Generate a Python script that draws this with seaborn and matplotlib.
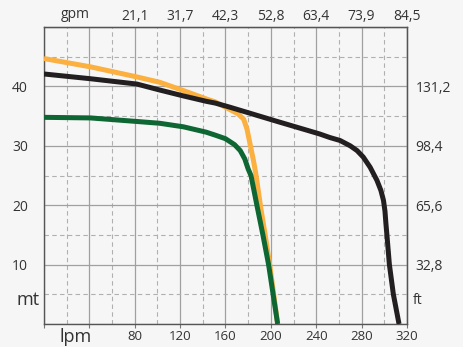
import matplotlib.pyplot as plt
import pandas as pd
import numpy as np
import seaborn as sns

# curve data: flow in lpm, head in mt
orange_q = [0, 41, 82, 102, 123, 143, 151, 162, 171, 176, 179, 182, 185, 187, 191, 195, 199, 206]
orange_h = [44.7, 43.3, 41.6, 40.7, 39.3, 37.9, 37.4, 36.3, 35.4, 34.5, 32.8, 30.0, 27.2, 25.0, 19.7, 15.0, 10.0, 0.0]

green_q = [0, 41, 82, 102, 123, 143, 151, 160, 168, 173, 177, 180, 182.5, 188, 193, 198, 206]
green_h = [34.8, 34.7, 34.1, 33.8, 33.2, 32.3, 31.8, 31.2, 30.2, 29.2, 27.8, 26.1, 25.0, 19.7, 15.0, 10.0, 0.0]

black_q = [0, 41, 82, 102, 123, 143, 151, 164, 204, 243, 252, 261, 270, 276, 281.5, 287.5,
           293.5, 297, 299.3, 300.6, 301.4, 302.4, 304.5, 308, 313]
black_h = [42.1, 41.3, 40.4, 39.4, 38.4, 37.5, 37.2, 36.5, 34.2, 32.0, 31.4, 30.9, 30.0, 29.2,
           28.1, 26.4, 24.2, 22.5, 20.8, 19.0, 17.0, 14.8, 10.0, 5.0, 0.0]

lpm_ticks = [80, 120, 160, 200, 240, 280, 320]
gpm_labels = ['21,1', '31,7', '42,3', '52,8', '63,4', '73,9', '84,5']
mt_ticks = [10, 20, 30, 40]
ft_labels = ['32,8', '65,6', '98,4', '131,2']

df = pd.concat([
    pd.DataFrame({'q': orange_q, 'h': orange_h, 'pump': 'orange'}),
    pd.DataFrame({'q': green_q, 'h': green_h, 'pump': 'green'}),
    pd.DataFrame({'q': black_q, 'h': black_h, 'pump': 'black'}),
])
colors = {'orange': '#FBB040', 'green': '#0E6633', 'black': '#231F20'}

sns.set_style('white')
plt.rcParams['font.family'] = ['Open Sans', 'DejaVu Sans']
txt = '#333333'

fig = plt.figure(figsize=(4.64, 3.47), dpi=100, facecolor='#F6F6F6')
ax = fig.add_axes([0.0948, 0.0663, 0.7823, 0.8557])
ax.set_facecolor('#F6F6F6')

for name in ['orange', 'green', 'black']:
    sns.lineplot(data=df[df.pump == name], x='q', y='h', color=colors[name],
                 lw=3.6, sort=False, estimator=None, ax=ax, zorder=3,
                 solid_joinstyle='round', solid_capstyle='butt')

ax.set_xlim(0, 320)
ax.set_ylim(0, 50)
ax.set_xticks(np.arange(0, 321, 40))
ax.set_xticks(np.arange(20, 320, 40), minor=True)
ax.set_yticks(np.arange(0, 51, 10))
ax.set_yticks(np.arange(5, 50, 10), minor=True)
ax.grid(which='major', color='#A0A0A0', lw=0.9)
ax.grid(which='minor', color='#B0B0B0', lw=0.8, ls=(0, (4, 3)))
ax.set_axisbelow(True)

ax.set_xticklabels(['', ''] + [str(t) for t in lpm_ticks], color=txt, fontsize=9.5)
ax.set_yticklabels([''] + [str(t) for t in mt_ticks] + [''], color=txt, fontsize=10)
ax.tick_params(axis='x', which='major', bottom=True, length=3, color='#777777', pad=1.5)
ax.tick_params(axis='y', which='major', left=False, pad=8)
ax.tick_params(which='minor', length=0)
ax.set_xlabel('')
ax.set_ylabel('')
for s in ax.spines.values():
    s.set_color('#555555')
    s.set_linewidth(1.0)

top = ax.secondary_xaxis('top')
top.set_xticks(lpm_ticks)
top.set_xticklabels(gpm_labels, color=txt, fontsize=10)
top.tick_params(length=0, pad=2)

right = ax.secondary_yaxis('right')
right.set_yticks(mt_ticks)
right.set_yticklabels(ft_labels, color=txt, fontsize=10)
right.tick_params(length=0, pad=6)

fig.text(75 / 464, 1 - 15 / 347, 'gpm', color=txt, fontsize=10, ha='center', va='center')
fig.text(76 / 464, 1 - 337 / 347, 'lpm', color=txt, fontsize=13, ha='center', va='center')
fig.text(28 / 464, 1 - 300 / 347, 'mt', color=txt, fontsize=13, ha='center', va='center')
fig.text(413 / 464, 1 - 301 / 347, 'ft', color=txt, fontsize=10, ha='left', va='center')

fig.savefig('out.png', dpi=100, facecolor=fig.get_facecolor())
